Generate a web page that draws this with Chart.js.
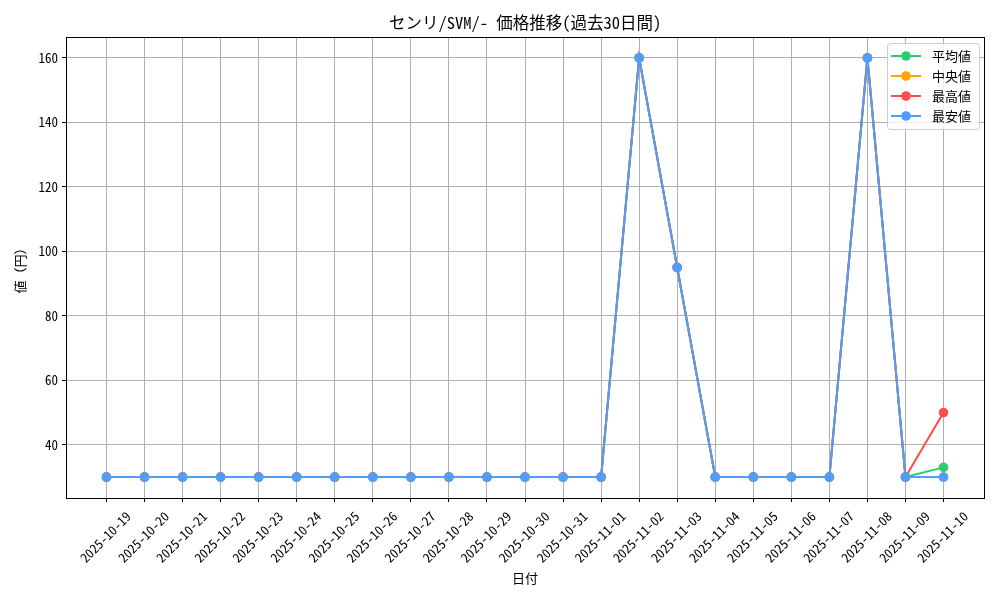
<!DOCTYPE html>
<html><head><meta charset="utf-8">
<script src="https://cdn.jsdelivr.net/npm/chart.js@4"></script>
<style>html,body{margin:0;padding:0;background:#fff}#wrap{width:1000px;height:600px;position:relative}</style>
</head><body><div id="wrap"><canvas id="c" width="1000" height="600"></canvas></div>
<script>
const dates = ["2025-10-19","2025-10-20","2025-10-21","2025-10-22","2025-10-23","2025-10-24","2025-10-25","2025-10-26","2025-10-27","2025-10-28","2025-10-29","2025-10-30","2025-10-31","2025-11-01","2025-11-02","2025-11-03","2025-11-04","2025-11-05","2025-11-06","2025-11-07","2025-11-08","2025-11-09","2025-11-10"];
const avgVals = [30,30,30,30,30,30,30,30,30,30,30,30,30,30,160,95,30,30,30,30,160,30,33];
const medVals = [30,30,30,30,30,30,30,30,30,30,30,30,30,30,160,95,30,30,30,30,160,30,30];
const maxVals = [30,30,30,30,30,30,30,30,30,30,30,30,30,30,160,95,30,30,30,30,160,30,50];
const minVals = [30,30,30,30,30,30,30,30,30,30,30,30,30,30,160,95,30,30,30,30,160,30,30];
const yTicks = [40,60,80,100,120,140,160];
const seriesNames = ["平均値","中央値","最高値","最安値"];
const colors = ["#2ecc71","#ffa500","#ff4d4d","#4d9eff"];
const title = "センリ/SVM/- 価格推移(過去30日間)";
const xTitle = "日付";
const yTitle = "値（円）";
const FONT = "'Noto Sans Mono CJK JP', 'Noto Sans CJK JP', 'DejaVu Sans Mono', sans-serif";

const toPts = arr => arr.map((v,i)=>({x:i,y:v}));
const vals = [avgVals, medVals, maxVals, minVals];
const datasets = vals.map((a,k)=>({
  label: seriesNames[k], data: toPts(a), borderColor: colors[k], backgroundColor: colors[k],
  borderWidth: 2, pointRadius: 4.8, pointHoverRadius: 4.8, pointBorderWidth: 0, tension: 0,
  order: vals.length - k
}));

const n = dates.length;
const pad = 1.064;
const yMinD = 30, yMaxD = 160, yPad = (yMaxD-yMinD)*0.05;

const deco = {
  id:'deco',
  afterDraw(chart){
    const ctx = chart.ctx, a = chart.chartArea;
    ctx.save();
    ctx.strokeStyle = '#000'; ctx.lineWidth = 1;
    ctx.strokeRect(Math.round(a.left)+0.5, Math.round(a.top)+0.5, Math.round(a.right-a.left), Math.round(a.bottom-a.top));
    ctx.fillStyle = '#000';
    // x tick labels, rotated 45°, centred on tick
    const xs = chart.scales.x;
    ctx.font = `13px ${FONT}`; ctx.textAlign='center'; ctx.textBaseline='middle';
    dates.forEach((d,i)=>{
      const px = xs.getPixelForValue(i) - 1;
      ctx.save(); ctx.translate(px, a.bottom + 39); ctx.rotate(-Math.PI/4); ctx.fillText(d,0,0); ctx.restore();
    });
    ctx.font = `16.5px ${FONT}`;
    ctx.fillText(title, (a.left+a.right)/2, 23);
    ctx.font = `13px ${FONT}`;
    ctx.fillText(xTitle, (a.left+a.right)/2, 578);
    ctx.save(); ctx.translate(20,(a.top+a.bottom)/2); ctx.rotate(-Math.PI/2); ctx.fillText(yTitle,0,0); ctx.restore();
    // legend
    const lx=887, ly=43, lw=92, lh=86;
    ctx.fillStyle='rgba(255,255,255,0.8)'; ctx.strokeStyle='#cccccc';
    ctx.beginPath(); ctx.roundRect(lx+0.5,ly+0.5,lw,lh,3); ctx.fill(); ctx.stroke();
    chart.data.datasets.forEach((d,k)=>{
      const y = 56 + k*20;
      ctx.strokeStyle=d.borderColor; ctx.lineWidth=2;
      ctx.beginPath(); ctx.moveTo(891,y); ctx.lineTo(921,y); ctx.stroke();
      ctx.fillStyle=d.borderColor; ctx.beginPath(); ctx.arc(906,y,4.8,0,Math.PI*2); ctx.fill();
      ctx.fillStyle='#000'; ctx.font=`13px ${FONT}`; ctx.textAlign='left'; ctx.textBaseline='middle';
      ctx.fillText(d.label, 932, y);
    });
    ctx.restore();
  }
};

new Chart(document.getElementById('c'), {
  type:'line',
  data:{datasets},
  options:{
    responsive:false, animation:false, devicePixelRatio:1,
    layout:{padding:{left:0,right:16,top:37,bottom:0}},
    plugins:{legend:{display:false}, title:{display:false}, tooltip:{enabled:false}},
    scales:{
      x:{type:'linear', min:-pad, max:(n-1)+pad,
        afterBuildTicks(s){ s.ticks = dates.map((_,i)=>({value:i})); },
        afterFit(s){ s.height = 102; },
        ticks:{display:false},
        grid:{color:'#b0b0b0', lineWidth:1, tickColor:'#000', tickLength:4},
        border:{display:false}
      },
      y:{type:'linear', min:yMinD-yPad, max:yMaxD+yPad,
        afterBuildTicks(s){ s.ticks = yTicks.map(v=>({value:v})); },
        afterFit(s){ s.width = 66; },
        ticks:{color:'#000', font:{family:FONT,size:13}, padding:4},
        grid:{color:'#b0b0b0', lineWidth:1, tickColor:'#000', tickLength:4},
        border:{display:false}
      }
    }
  },
  plugins:[deco]
});
</script></body></html>
